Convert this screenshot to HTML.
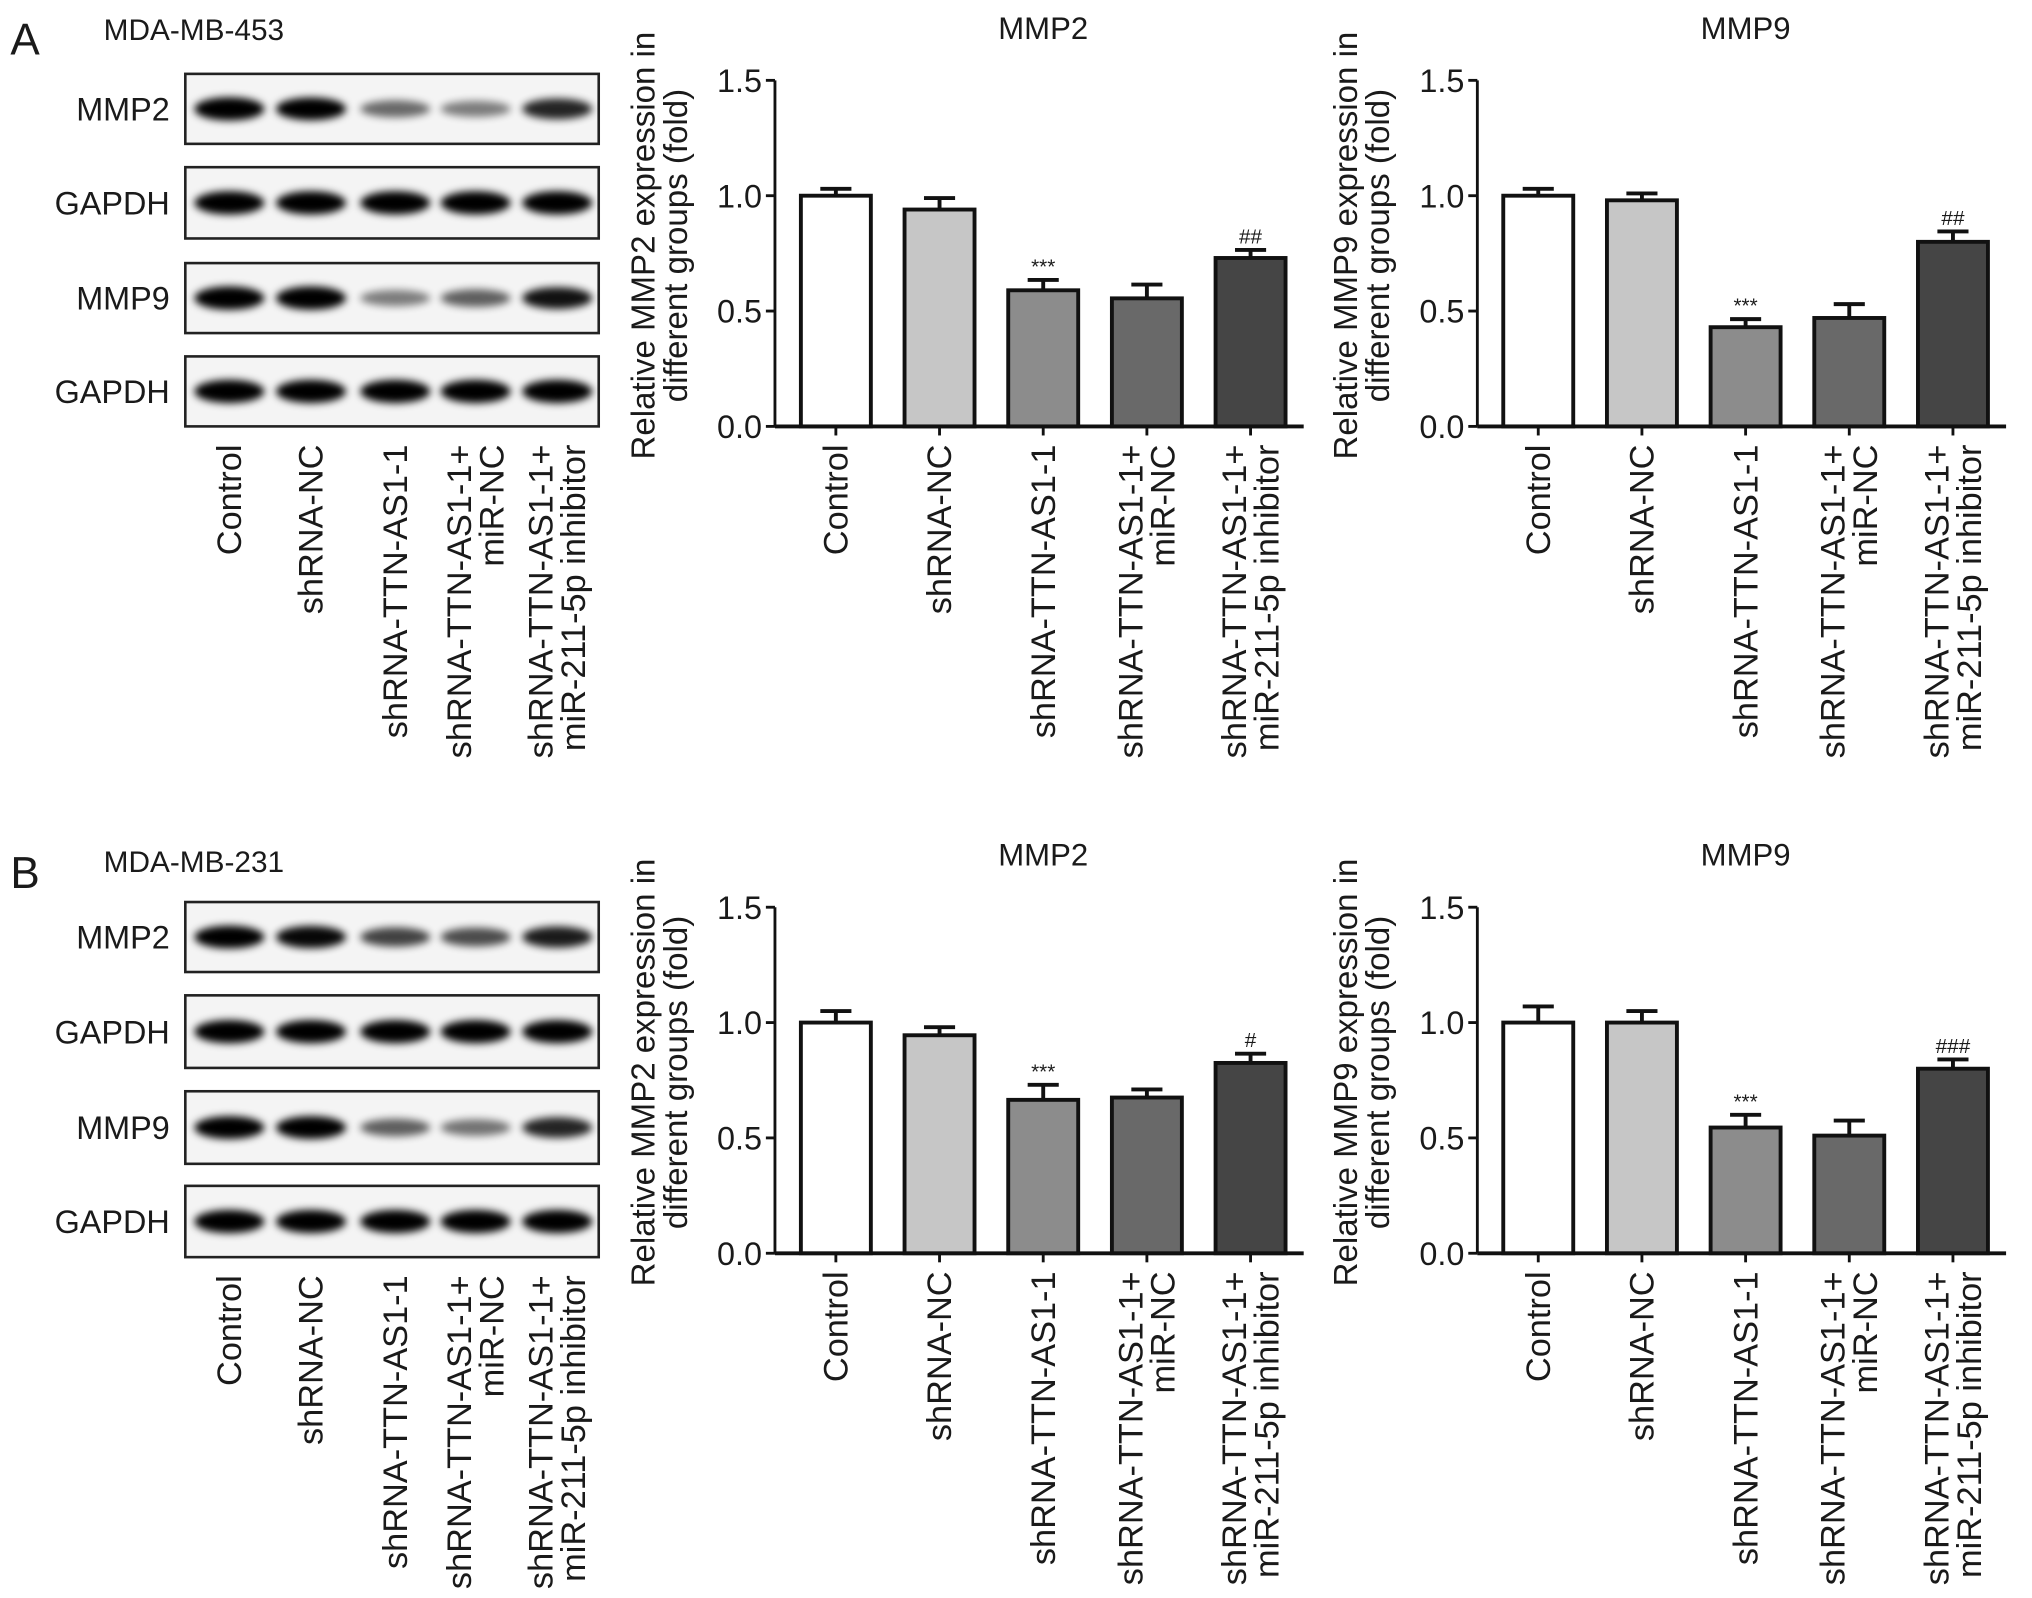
<!DOCTYPE html>
<html><head><meta charset="utf-8"><style>
html,body{margin:0;padding:0;background:#fff}
svg{display:block;font-family:"Liberation Sans",sans-serif}
</style></head><body>
<svg id="fig" width="2032" height="1598" viewBox="0 0 1568 1233" preserveAspectRatio="none" xmlns="http://www.w3.org/2000/svg">
<defs><filter id="blur" x="-30%" y="-100%" width="160%" height="300%"><feGaussianBlur stdDeviation="3"/></filter></defs>
</svg>
<script>
const categories=["Control","shRNA-NC","shRNA-TTN-AS1-1","shRNA-TTN-AS1-1+|miR-NC","shRNA-TTN-AS1-1+|miR-211-5p inhibitor"];
const valsA1=[1.0,0.94,0.59,0.555,0.73];
const errA1=[0.03,0.05,0.045,0.06,0.035];
const sigA1=["","","***","","##"];
const valsA2=[1.0,0.98,0.43,0.47,0.80];
const errA2=[0.03,0.03,0.035,0.06,0.045];
const sigA2=["","","***","","##"];
const valsB1=[1.0,0.945,0.665,0.675,0.825];
const errB1=[0.05,0.035,0.065,0.035,0.04];
const sigB1=["","","***","","#"];
const valsB2=[1.0,1.0,0.545,0.51,0.80];
const errB2=[0.07,0.05,0.055,0.065,0.04];
const sigB2=["","","***","","###"];
const yTicks=["0.0","0.5","1.0","1.5"];
const bandA=[[1,0.95,0.4,0.3,0.75],[1,1,1,1,1],[1,1,0.3,0.45,0.85],[1,1,1,1,1]];
const bandB=[[0.95,0.9,0.6,0.55,0.8],[1,1,1,1,1],[0.95,0.95,0.45,0.35,0.75],[1,1,1,1,1]];
const barColors=["#ffffff","#c6c6c6","#8c8c8c","#696969","#454545"];
const svg=document.getElementById('fig');
const NS="http://www.w3.org/2000/svg";
function mk(tag,attrs,parent,text){const e=document.createElementNS(NS,tag);for(const k in attrs)e.setAttribute(k,attrs[k]);if(text!==undefined)e.textContent=text;(parent||svg).appendChild(e);return e;}
function txt(x,y,s,size,anchor,name,parent,extra){const t=mk('text',Object.assign({x:x,y:y,'font-size':size,'text-anchor':anchor||'start',fill:'#1a1a1a'},extra||{}),parent,s);


return t;}
function vlabels(xs,y0,g,prefix){categories.forEach((c,i)=>{const parts=c.split('|');parts.forEach((p,j)=>{const x=xs[i]-(parts.length-1)*12.5+j*25+9;txt(x,y0,p,26.5,'end',prefix+'-label-'+i+'-'+j,g,{transform:'rotate(-90 '+x+' '+y0+')'});});});}
function blot(label,cell,rowsY,bands,panel){
 const g=mk('g',{});
 
 
 txt(80,label.y,cell,23,'start','cell-line-label-'+panel,g);
 const lanes=[177,240,305,367,430];
 const names=["MMP2","GAPDH","MMP9","GAPDH"];
 rowsY.forEach((r,ri)=>{
  const box=mk('rect',{x:143,y:r[0],width:319,height:r[1]-r[0],fill:'#f4f4f4',stroke:'#222','stroke-width':2},g);
  
  
  txt(131,(r[0]+r[1])/2+9,names[ri],25,'end','blot-protein-label-'+ri+'-'+panel,g);
  lanes.forEach((lx,li)=>{const a=bands[ri][li];
   const b=mk('ellipse',{cx:lx,cy:(r[0]+r[1])/2,rx:27,ry:5+4*a,fill:'#000',opacity:Math.min(1,0.25+0.8*a),filter:'url(#blur)'},g);
   
   });
 });
 vlabels(lanes,rowsY[3][1]+14,g,'blot-'+panel);
}
function chart(ax,x0,y0,y15,title,vals,errs,sigs,ylab,name){
 const g=mk('g',{});
 
 
 const ys=v=>y0-(y0-y15)*v/1.5;
 const xs=[0,1,2,3,4].map(i=>x0+47+i*80);
 txt(x0+207,ys(1.5)-32,title,24,'middle',name+'-title',g);
 const ya=mk('line',{x1:x0,y1:ys(1.5),x2:x0,y2:y0,stroke:'#111','stroke-width':2.2},g);
 
 const xa=mk('line',{x1:x0,y1:y0,x2:x0+408,y2:y0,stroke:'#111','stroke-width':3},g);
 
 yTicks.forEach(t=>{const y=ys(parseFloat(t));mk('line',{x1:x0-7,y1:y,x2:x0,y2:y,stroke:'#111','stroke-width':2.2},g);txt(x0-10,y+9,t,25,'end',name+'-ytick-'+t,g);});
 const lx=x0-93,ly=(y0+ys(1.5))/2-6;
 txt(lx,ly,ylab[0],25.5,'middle',name+'-y-axis-title',g,{transform:'rotate(-90 '+lx+' '+ly+')'});
 txt(lx+25,ly,ylab[1],25.5,'middle',name+'-y-axis-title-2',g,{transform:'rotate(-90 '+(lx+25)+' '+ly+')'});
 vals.forEach((v,i)=>{const cx=xs[i];const top=ys(v);const et=ys(v+errs[i]);
  mk('line',{x1:cx,y1:et,x2:cx,y2:top,stroke:'#111','stroke-width':3},g);
  mk('line',{x1:cx-12,y1:et,x2:cx+12,y2:et,stroke:'#111','stroke-width':3},g);
  const b=mk('rect',{x:cx-27,y:top,width:54,height:y0-top,fill:barColors[i],stroke:'#111','stroke-width':3},g);
  
  
  mk('line',{x1:cx,y1:y0,x2:cx,y2:y0+7,stroke:'#111','stroke-width':2.2},g);
  if(sigs[i])txt(cx,et-5,sigs[i],16,'middle',name+'-sig-'+i,g);
 });
 vlabels(xs,y0+14,g,name);
}
txt(8,42,"A",34,'start','panel-a-label');
txt(8,685,"B",34,'start','panel-b-label');
blot({y:31},"MDA-MB-453",[[57,111],[129,184],[203,257],[275,329]],bandA,'a');
blot({y:673},"MDA-MB-231",[[696,750],[768,824],[842,898],[915,970]],bandB,'b');
chart('a1',598,329,62,"MMP2",valsA1,errA1,sigA1,["Relative MMP2 expression in","different groups (fold)"],'chart-a-mmp2');
chart('a2',1140,329,62,"MMP9",valsA2,errA2,sigA2,["Relative MMP9 expression in","different groups (fold)"],'chart-a-mmp9');
chart('b1',598,967,700,"MMP2",valsB1,errB1,sigB1,["Relative MMP2 expression in","different groups (fold)"],'chart-b-mmp2');
chart('b2',1140,967,700,"MMP9",valsB2,errB2,sigB2,["Relative MMP9 expression in","different groups (fold)"],'chart-b-mmp9');
</script>
</body></html>
